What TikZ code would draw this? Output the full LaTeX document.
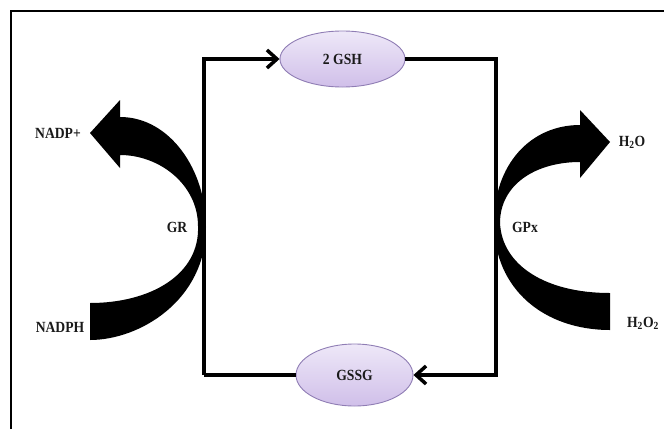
\documentclass[tikz,border=0pt]{standalone}
\usepackage{fontspec}
\setmainfont{Liberation Serif}
\newfontfamily\labelfont{Liberation Serif}[FakeStretch=0.88]
\usetikzlibrary{arrows.meta,shapes.geometric}
\definecolor{ink}{HTML}{1A1A1A}
\definecolor{lavtop}{HTML}{EEE8F8}
\definecolor{lavbot}{HTML}{D0BFE9}
\definecolor{lavedge}{HTML}{8F7DB4}
\tikzset{
  lbl/.style={font=\labelfont\fontsize{15.5}{17}\selectfont\bfseries, text=ink, inner sep=0pt},
  metab/.style={ellipse, draw=lavedge, line width=0.9pt, top color=lavtop,
    bottom color=lavbot, inner sep=0pt,
    font=\labelfont\fontsize{15.5}{17}\selectfont\bfseries, text=ink},
  loopline/.style={line width=3.3pt, draw=black, line join=miter},
  barb/.style={-{Straight Barb[length=10pt, width=18pt, line width=3.5pt]}},
  bandarrow/.style={fill=black, draw=none}
}
\begin{document}
\begin{tikzpicture}[x=1pt, y=-1pt]
\useasboundingbox (0,0) rectangle (664,429);
% partial frame
\draw[line width=2pt] (10.5,429) -- (10.5,10.5) -- (664,10.5);

% metabolites
\node[metab, minimum width=125pt, minimum height=56pt] (gsh) at (342.5,59) {2 GSH};
\node[metab, minimum width=117pt, minimum height=62pt] (gssg) at (354.5,375) {GSSG};

% corners of the cycle
\coordinate (tl) at (204,59);
\coordinate (tr) at (496,59);
\coordinate (br) at (496,375);
\coordinate (bl) at (204,375);

% curved reaction arrow: glutathione reductase (NADPH -> NADP+)
\fill[bandarrow] (90,340) .. controls (140,340) and (206,300) .. (206,227)
  .. controls (206,170) and (170,117) .. (120,117)
  -- (120,100) -- (90,133) -- (120,168) -- (120,155)
  .. controls (160,155) and (198,185) .. (198,226)
  .. controls (200,275) and (150,303) .. (90,303) -- cycle;

% curved reaction arrow: glutathione peroxidase (H2O2 -> H2O)
\fill[bandarrow] (610,330) .. controls (545,330) and (494,290) .. (494,223)
  .. controls (494,165) and (530,125) .. (580,125)
  -- (580,110) -- (610,142) -- (580,178) -- (580,162)
  .. controls (535,162) and (500,185) .. (500,223)
  .. controls (502,265) and (545,293) .. (610,293) -- cycle;

% the glutathione cycle
\draw[loopline, barb] (bl) -- (tl) -- (gsh.west);
\draw[loopline, barb] (gsh.east) -- (tr) -- (br) -- (gssg.east);
\draw[loopline] (gssg.west) -- (bl);

% labels
\node[lbl] (nadpplus) at (58,133) {NADP+};
\node[lbl] (nadph) at (60,327) {NADPH};
\node[lbl] (gr) at (177,227) {GR};
\node[lbl] (gpx) at (525,227) {GPx};
\node[lbl] (water) at (632,142) {H\textsubscript{2}O};
\node[lbl] (peroxide) at (643,323) {H\textsubscript{2}O\textsubscript{2}};
\end{tikzpicture}
\end{document}
